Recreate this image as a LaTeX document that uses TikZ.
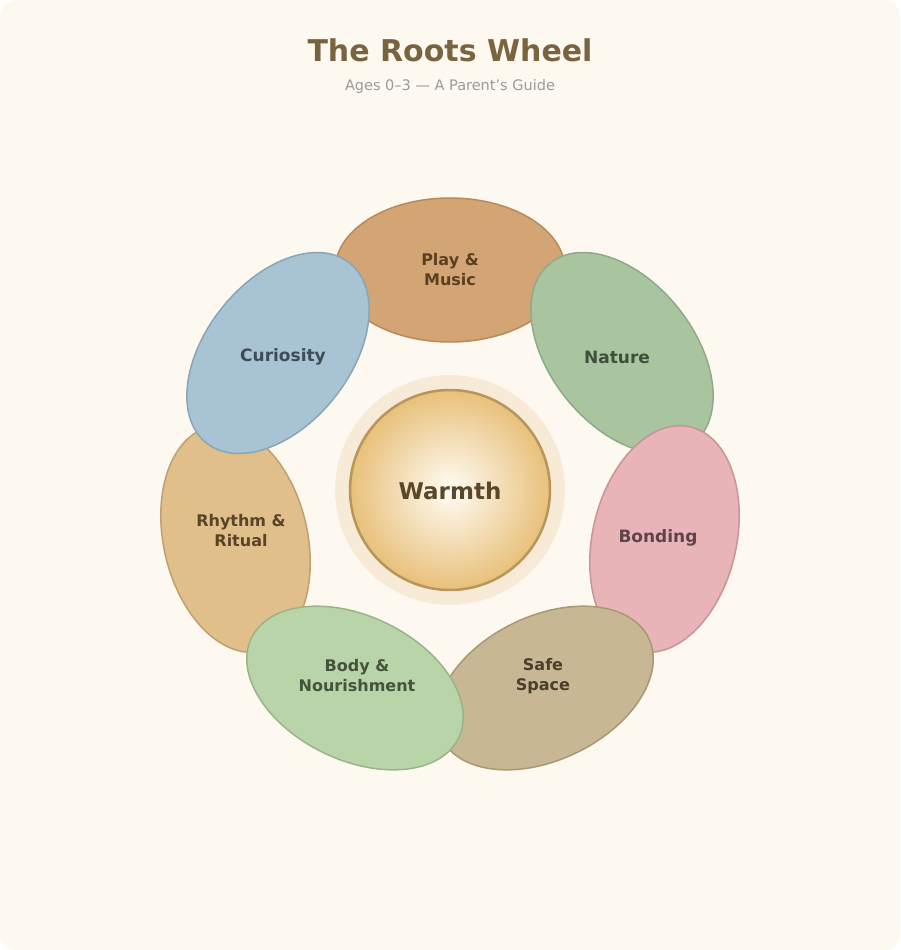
\documentclass[tikz,border=0pt]{standalone}
\usepackage{fontspec}
\setmainfont{DejaVu Sans}
\usetikzlibrary{shapes.geometric}
\definecolor{bg}{HTML}{FEF9F0}
\definecolor{ttl}{HTML}{7A6440}
\definecolor{sub}{HTML}{9A9A9A}
\definecolor{pF}{HTML}{D4A574}\definecolor{pD}{HTML}{B88A5A}\definecolor{pT}{HTML}{5A4020}
\definecolor{nF}{HTML}{A8C5A0}\definecolor{nD}{HTML}{8FAA88}\definecolor{nT}{HTML}{3F4F3A}
\definecolor{bF}{HTML}{E8B4B8}\definecolor{bD}{HTML}{C99498}\definecolor{bT}{HTML}{5E4446}
\definecolor{sF}{HTML}{C8B794}\definecolor{sD}{HTML}{A89874}\definecolor{sT}{HTML}{4A3F2C}
\definecolor{rF}{HTML}{E0BF8A}\definecolor{rD}{HTML}{C0A070}\definecolor{rT}{HTML}{5A4428}
\definecolor{yF}{HTML}{B8D4A8}\definecolor{yD}{HTML}{9AB48A}\definecolor{yT}{HTML}{44533C}
\definecolor{cF}{HTML}{A8C4D4}\definecolor{cD}{HTML}{8AA6B6}\definecolor{cT}{HTML}{3E4C55}
\definecolor{halo}{HTML}{F7EBD8}\definecolor{wIn}{HTML}{FFFCF5}\definecolor{wOut}{HTML}{E8C07A}
\definecolor{wD}{HTML}{B8955A}\definecolor{wT}{HTML}{5A4628}
\tikzset{
 petal/.style n args={3}{ellipse, minimum width=230pt, minimum height=144pt, fill=#1, draw=#2, line width=1.5pt, rotate=#3, inner sep=0pt},
 lbl/.style={font=\bfseries\fontsize{17}{20}\selectfont, text=#1},
 lbl2/.style={font=\bfseries\fontsize{16}{20}\selectfont, text=#1, align=center},
}
\begin{document}
\begin{tikzpicture}[x=1pt,y=-1pt]
\useasboundingbox (0,0) rectangle (900,950);
\fill[bg, rounded corners=16pt] (0,0) rectangle (900,950);
\node[font=\bfseries\fontsize{30}{36}\selectfont, text=ttl] (title) at (450,50) {The Roots Wheel};
\node[font=\fontsize{14.5}{17}\selectfont, text=sub] (subtitle) at (450,86) {Ages 0–3 — A Parent’s Guide};
\node[petal={pF}{pD}{0}] (play) at (450,270) {};
\node[lbl2=pT] at (450,270) {Play \&\\Music};
\node[petal={nF}{nD}{-51.43}] (nature) at (622,353) {};
\node[lbl=nT] at (617,357) {Nature};
\node[petal={bF}{bD}{-102.86}] (bonding) at (664.5,539) {};
\node[lbl=bT] at (658,538) {Bonding};
\node[petal={sF}{sD}{-154.29}] (safe) at (545,688) {};
\node[lbl2=sT] at (543,676) {Safe\\Space};
\node[petal={rF}{rD}{-257.14}] (rhythm) at (235.5,539) {};
\node[lbl2=rT] at (241,531) {Rhythm \&\\Ritual};
\node[petal={yF}{yD}{-205.71}] (body) at (355,688) {};
\node[lbl2=yT] at (357,676) {Body \&\\Nourishment};
\node[petal={cF}{cD}{-308.57}] (curio) at (278,353) {};
\node[lbl=cT] at (283,357) {Curiosity};
\fill[halo] (450,490) circle (115);
\shade[inner color=wIn, outer color=wOut] (450,490) circle (100);
\draw[wD, line width=2.5pt] (450,490) circle (100);
\node[font=\bfseries\fontsize{23}{28}\selectfont, text=wT] (warmth) at (450,491) {Warmth};
\end{tikzpicture}
\end{document}
